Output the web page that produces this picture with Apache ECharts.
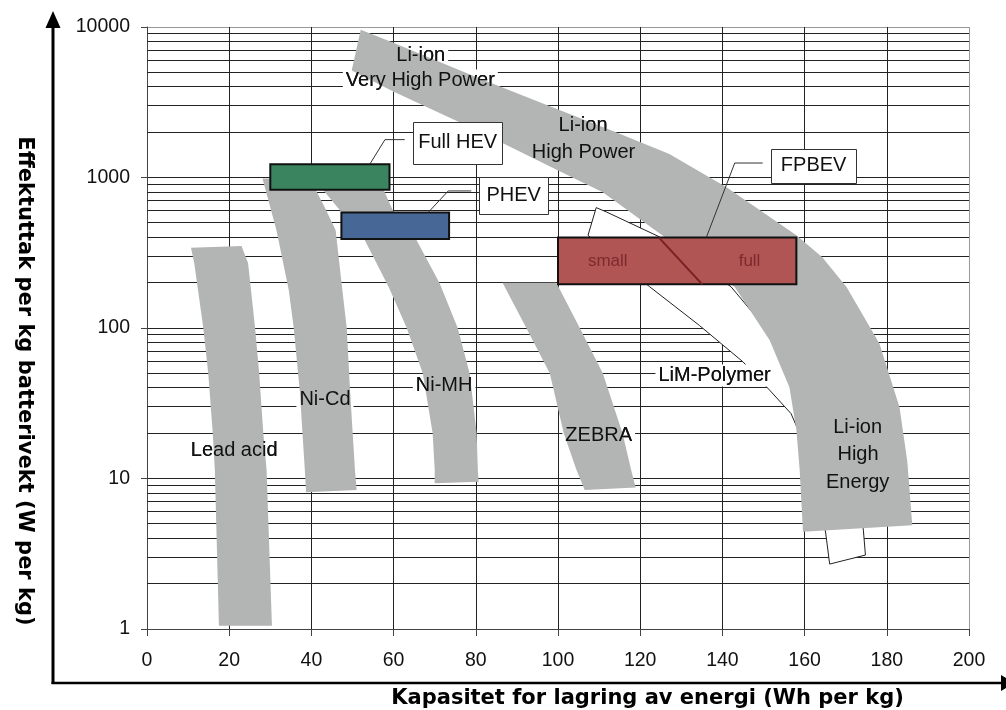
<!DOCTYPE html>
<html><head><meta charset="utf-8">
<script src="https://cdn.jsdelivr.net/npm/echarts@6/dist/echarts.min.js"></script>
<style>html,body{margin:0;padding:0;background:#fff}#c{width:1006px;height:710px}</style>
</head><body><div id="c"></div>
<script>
// ---------- DATA (x: Wh/kg, y: W/kg) ----------
const yTicks = [1, 10, 100, 1000, 10000];
const minorTicks = [2,3,4,5,6,7,8,9,20,30,40,50,60,70,80,90,200,300,400,500,600,700,800,900,2000,3000,4000,5000,6000,7000,8000,9000];

const leadAcid = [[10.7,342],[11.5,269],[13.7,100],[14.9,50],[16.0,20],[16.5,11.4],[17.5,1.05],[30.4,1.05],[29.1,11.4],[28.3,20],[27.3,50],[26.3,100],[24.6,269],[23.0,351]];
const niCd = [[28.1,983],[31.5,446],[34.5,178],[35.7,100],[37.2,37.5],[38.4,11.4],[38.7,8.1],[51.0,8.4],[50.6,11.4],[49.4,38.6],[48.6,100],[47.4,192],[45.9,446],[43.3,630],[41.1,822],[39.9,984]];
const niMH = [[42.5,848],[53.0,383],[58.8,187],[63.2,100],[67.1,50],[69.5,20],[70.0,11.4],[70.0,9.3],[80.7,9.5],[80.5,11.4],[80.2,20],[78.5,50],[75.6,100],[71.2,198],[65.6,383],[59.8,606],[57.4,848]];
const zebra = [[86.5,200],[92.3,100],[98.0,50],[101.4,20],[104.5,11.4],[106.5,8.4],[118.9,8.7],[117.8,11.4],[115.7,20],[110.9,50],[105.3,100],[99.6,200]];
const liIon = [[52.0,9600],[59.8,7900],[80.2,4630],[93.1,3360],[99.9,2840],[113.5,2030],[127.1,1430],[141.0,860],[158.0,413],[164.3,295],[170.2,187],[178.2,79],[183.1,29.8],[185.0,12.9],[186.2,4.9],
               [159.6,4.43],[158.8,11.4],[158.0,21],[156.3,40.4],[151.5,83],[143.0,187],[134.4,274],[122.3,474],[110.9,797],[99.9,1116],[80.2,2058],[59.8,3736],[49.8,5149]];
const limPolymer = [[109.3,631],[111.8,590],[124.7,403],[142.1,188],[146.2,138],[153.9,77],[163.6,28.5],[170.4,11.4],[173.8,5.7],[174.3,4.54],[174.8,3.1],[166.1,2.7],[165.1,4.41],[162.4,9.8],[159.5,18],[156.7,27],[151.5,38.6],[145.0,59.6],[134.4,104],[122.3,188],[115.0,274],[107.3,413]];

// boxes: [xMin, xMax, yMin, yMax]
const hevBox = [30, 59, 830, 1224];
const phevBox = [47.3, 73.5, 390, 585];
const fpbevBox = [100, 158, 195, 400];
const fpbevDivider = [[124.5,400],[135.1,195]];

const hevLeader = [[62.7,1785],[57.9,1785],[54.2,1224]];
const phevLeader = [[78.9,814],[73.3,814],[68.4,585]];
const fpbevLeader = [[149.8,1248],[143.0,1248],[136.1,400]];

const calloutNames = ['Full HEV', 'PHEV', 'FPBEV'];
const calloutX = [75.6, 89.2, 162.2];
const calloutY = [1700, 762, 1196];

const bandLabels = ['Li-ion','Very High Power','Li-ion','High Power','Li-ion','High','Energy','Lead acid','Ni-Cd','Ni-MH','ZEBRA','LiM-Polymer'];
const bandLabelX = [66.6, 66.5, 106.1, 106.2, 172.9, 173.0, 172.9, 21.2, 43.3, 72.3, 109.9, 138.1];
const bandLabelY = [6430, 4407, 2204, 1466, 21.8, 14.5, 9.44, 15.3, 33.4, 41.7, 19.3, 48.4];

const boxLabels = ['small', 'full'];
const boxLabelX = [112.1, 146.6];
const boxLabelY = [279, 279];

// ---------- STYLE ----------
const GREY = '#b3b5b5';
const FONT = '"Liberation Sans", Arial, sans-serif';
const calloutSizes = [[89, 42], [69, 37], [85, 34]];

function polygonSeries(points, z, fill, stroke, lw) {
  return {
    type: 'custom', coordinateSystem: 'cartesian2d', z: z, silent: true, data: [[0, 1]],
    renderItem: (p, api) => ({
      type: 'polygon',
      shape: { points: points.map(pt => api.coord(pt)) },
      style: { fill: fill, stroke: stroke || null, lineWidth: lw || 0 }
    })
  };
}
function boxSeries(b, z, fill) {
  return {
    type: 'custom', coordinateSystem: 'cartesian2d', z: z, silent: true, data: [[0, 1]],
    renderItem: (p, api) => {
      const a = api.coord([b[0], b[3]]), c = api.coord([b[1], b[2]]);
      return { type: 'rect', shape: { x: a[0], y: a[1], width: c[0] - a[0], height: c[1] - a[1] },
        style: { fill: fill, stroke: '#111', lineWidth: 2 } };
    }
  };
}
function lineSeries(points, z, color, lw) {
  return {
    type: 'custom', coordinateSystem: 'cartesian2d', z: z, silent: true, data: [[0, 1]],
    renderItem: (p, api) => ({
      type: 'polyline', shape: { points: points.map(pt => api.coord(pt)) },
      style: { stroke: color, lineWidth: lw, fill: null }
    })
  };
}
function labelSeries(texts, xs, ys, z, withBg, color, size) {
  return {
    type: 'custom', coordinateSystem: 'cartesian2d', z: z, silent: true,
    data: texts.map((t, i) => [xs[i], ys[i], i]),
    renderItem: (p, api) => {
      const pt = api.coord([api.value(0), api.value(1)]);
      const style = { text: texts[api.value(2)], fill: color, font: size + 'px ' + FONT,
        align: 'center', verticalAlign: 'middle' };
      if (withBg) { style.backgroundColor = '#fff'; style.padding = [1, 3]; }
      return { type: 'text', x: pt[0], y: pt[1], style: style };
    }
  };
}

const chart = echarts.init(document.getElementById('c'), null, { renderer: 'canvas' });
const option = {
  animation: false,
  backgroundColor: '#fff',
  grid: { left: 147, right: 37, top: 27, bottom: 81 },
  xAxis: {
    type: 'value', min: 0, max: 200, interval: 20,
    axisLine: { show: true, lineStyle: { color: '#444', width: 1 } },
    axisTick: { show: true, length: 7, lineStyle: { color: '#444' } },
    axisLabel: { fontSize: 19.5, fontFamily: FONT, color: '#111', margin: 22 },
    splitLine: { show: true, lineStyle: { color: ['#222','#222','#222','#222','#222','#222','#222','#222','#222','#222','#999'], width: 1 } }
  },
  yAxis: {
    type: 'log', logBase: 10, min: 1, max: 10000,
    axisLine: { show: true, lineStyle: { color: '#444', width: 1 } },
    axisTick: { show: true, length: 6, lineStyle: { color: '#444' } },
    axisLabel: { fontSize: 19.5, fontFamily: FONT, color: '#111', margin: 17,
      formatter: v => String(yTicks.reduce((a, b) => Math.abs(b - v) < Math.abs(a - v) ? b : a)) },
    splitLine: { show: true, lineStyle: { color: ['#222','#222','#222','#222','#999'], width: 1 } }
  },
  series: [
    {
      type: 'custom', coordinateSystem: 'cartesian2d', z: 1, silent: true,
      data: minorTicks.map(v => [0, v]),
      renderItem: (p, api) => {
        const a = api.coord([0, api.value(1)]), b = api.coord([200, api.value(1)]);
        const y = Math.round(a[1] - 0.5) + 0.5;
        return { type: 'line', shape: { x1: a[0], y1: y, x2: b[0], y2: y }, style: { stroke: '#222', lineWidth: 1 } };
      }
    },
    polygonSeries(limPolymer, 2, '#fff', '#222', 1),
    labelSeries(bandLabels, bandLabelX, bandLabelY, 3, true, '#111', 20),
    polygonSeries(leadAcid, 4, GREY),
    polygonSeries(niCd, 4, GREY),
    polygonSeries(niMH, 4, GREY),
    polygonSeries(zebra, 4, GREY),
    polygonSeries(liIon, 4, GREY),
    boxSeries(hevBox, 5, '#3a8560'),
    boxSeries(phevBox, 5, '#476896'),
    boxSeries(fpbevBox, 5, '#b05454'),
    lineSeries(fpbevDivider, 6, '#7a1f24', 2),
    lineSeries(hevLeader, 6, '#333', 1),
    lineSeries(phevLeader, 6, '#333', 1),
    lineSeries(fpbevLeader, 6, '#333', 1),
    {
      type: 'custom', coordinateSystem: 'cartesian2d', z: 7, silent: true,
      data: calloutNames.map((t, i) => [calloutX[i], calloutY[i], i]),
      renderItem: (p, api) => {
        const pt = api.coord([api.value(0), api.value(1)]);
        const i = api.value(2), s = calloutSizes[i];
        const x = Math.round(pt[0] - s[0] / 2) + 0.5, y = Math.round(pt[1] - s[1] / 2) + 0.5;
        return { type: 'group', children: [
          { type: 'rect', shape: { x: x, y: y, width: s[0], height: s[1] }, style: { fill: '#fff', stroke: '#333', lineWidth: 1 } },
          { type: 'text', x: pt[0], y: pt[1], style: { text: calloutNames[i], fill: '#111', font: '20px ' + FONT, align: 'center', verticalAlign: 'middle' } }
        ] };
      }
    },
    labelSeries(bandLabels, bandLabelX, bandLabelY, 8, false, '#111', 20),
    labelSeries(boxLabels, boxLabelX, boxLabelY, 8, false, '#7d2a2e', 17)
  ],
  graphic: [
    { type: 'line', shape: { x1: 53, y1: 684, x2: 53, y2: 26 }, style: { stroke: '#000', lineWidth: 3 } },
    { type: 'polygon', shape: { points: [[53, 11], [45.5, 28], [60.5, 28]] }, style: { fill: '#000' } },
    { type: 'line', shape: { x1: 51.5, y1: 683, x2: 1002, y2: 683 }, style: { stroke: '#000', lineWidth: 2.5 } },
    { type: 'polygon', shape: { points: [[1001, 675], [1001, 691], [1014, 683]] }, style: { fill: '#000' } },
    { type: 'text', x: 647.5, y: 699, style: { text: 'Kapasitet for lagring av energi (Wh per kg)', font: 'bold 21px "DejaVu Sans", Verdana, sans-serif', fill: '#000', align: 'center', verticalAlign: 'middle' } },
    { type: 'text', x: 24, y: 381, rotation: -Math.PI / 2, style: { text: 'Effektuttak per kg batterivekt (W per kg)', font: 'bold 21px "DejaVu Sans", Verdana, sans-serif', fill: '#000', align: 'center', verticalAlign: 'middle' } }
  ]
};
chart.setOption(option);
</script>
</body></html>
